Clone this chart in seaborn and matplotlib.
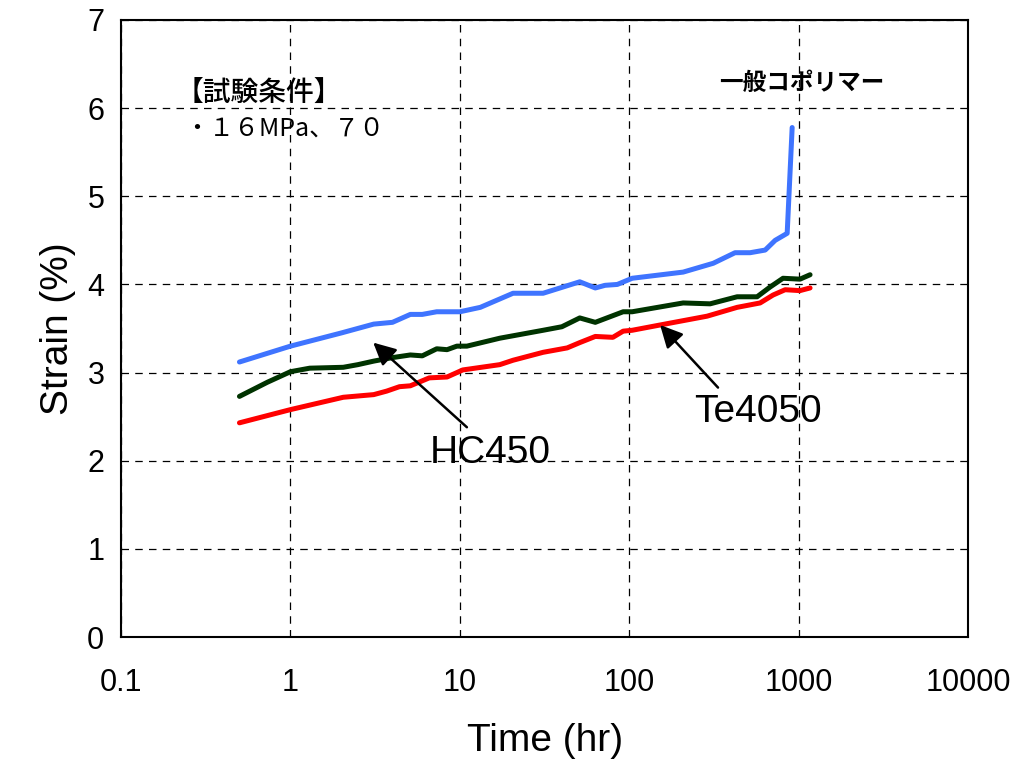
import pandas as pd
import matplotlib.pyplot as plt
import seaborn as sns

# =====================================
# Data
# =====================================

blue_time = [0.5, 1.0, 2.0, 3.1, 4.0, 5.1, 6.0, 7.3, 10, 13.2, 20.6, 31, 51, 63, 72, 85, 104, 208, 313, 421, 517, 634, 726, 855, 915]
blue_strain = [3.12, 3.30, 3.45, 3.55, 3.57, 3.66, 3.66, 3.69, 3.69, 3.74, 3.90, 3.90, 4.03, 3.96, 3.99, 4.00, 4.07, 4.14, 4.24, 4.36, 4.36, 4.39, 4.50, 4.58, 5.78]

green_time = [0.5, 0.73, 1.0, 1.3, 2.05, 2.5, 3.1, 4.0, 5.1, 6.0, 7.3, 8.4, 9.6, 11, 17.2, 31, 40, 51, 63, 92, 104, 208, 300, 433, 568, 677, 808, 1018, 1167]
green_strain = [2.73, 2.89, 3.01, 3.05, 3.06, 3.09, 3.13, 3.17, 3.20, 3.19, 3.27, 3.26, 3.30, 3.30, 3.39, 3.48, 3.52, 3.62, 3.57, 3.69, 3.69, 3.79, 3.78, 3.86, 3.86, 3.97, 4.07, 4.06, 4.11]

red_time = [0.5, 1.0, 2.05, 3.1, 3.7, 4.4, 5.1, 6.6, 8.4, 10.4, 17.2, 20.6, 31, 43, 51, 63, 80, 92, 104, 152, 288, 433, 592, 706, 832, 1018, 1167]
red_strain = [2.43, 2.58, 2.72, 2.75, 2.79, 2.84, 2.85, 2.94, 2.95, 3.03, 3.09, 3.14, 3.23, 3.28, 3.34, 3.41, 3.40, 3.47, 3.48, 3.54, 3.64, 3.74, 3.79, 3.88, 3.94, 3.93, 3.96]

x_ticks = [0.1, 1, 10, 100, 1000, 10000]
x_tick_labels = ["0.1", "1", "10", "100", "1000", "10000"]
y_ticks = [0, 1, 2, 3, 4, 5, 6, 7]

df = pd.concat([
    pd.DataFrame({"time": blue_time, "strain": blue_strain, "grade": "一般コポリマー"}),
    pd.DataFrame({"time": green_time, "strain": green_strain, "grade": "HC450"}),
    pd.DataFrame({"time": red_time, "strain": red_strain, "grade": "Te4050"}),
])

palette = {"一般コポリマー": "#3f74ff", "HC450": "#003300", "Te4050": "#ff0000"}

# =====================================
# Style / fonts
# =====================================

sns.set_style("white")
cjk = "Noto Sans CJK JP"
plt.rcParams['font.family'] = ["Liberation Sans", cjk, 'DejaVu Sans']
plt.rcParams['text.color'] = "black"
plt.rcParams['axes.labelcolor'] = "black"

# =====================================
# Plot
# =====================================

fig = plt.figure(figsize=(10.18, 7.6), dpi=100)
ax = fig.add_axes([0.1189, 0.1618, 0.8321, 0.8119])

sns.lineplot(data=df, x="time", y="strain", hue="grade", palette=palette,
             linewidth=3.6, legend=False, ax=ax, estimator=None, sort=False)

ax.set_xscale("log")
ax.set_xlim(0.1, 10000)
ax.set_ylim(0, 7)
ax.set_xticks(x_ticks)
ax.set_xticklabels(x_tick_labels)
ax.set_yticks(y_ticks)
ax.minorticks_off()
ax.tick_params(axis="both", length=0, labelsize=22, colors="black")
ax.tick_params(axis="x", pad=22)
ax.tick_params(axis="y", pad=12)

ax.grid(True, color="black", linestyle=(0, (6, 5)), linewidth=0.9)
for s in ax.spines.values():
    s.set_color("black")
    s.set_linewidth(1.5)

ax.set_xlabel("Time (hr)", fontsize=28, labelpad=18)
ax.set_ylabel("Strain (%)", fontsize=28, labelpad=8)

# arrows and labels
arrow = dict(arrowstyle="-|>", color="black", lw=1.8, mutation_scale=34,
             shrinkA=0, shrinkB=0)
ax.annotate("", xy=(3.08, 3.34), xytext=(11.0, 2.38), arrowprops=arrow)
ax.annotate("", xy=(152, 3.54), xytext=(334, 2.83), arrowprops=arrow)
ax.text(15.1, 2.09, "HC450", fontsize=28, ha="center", va="center")
ax.text(575, 2.55, "Te4050", fontsize=28, ha="center", va="center")

ax.text(0.064, 0.882, "【試験条件】", fontsize=20, weight="medium",
        family=[cjk, 'DejaVu Sans'], ha="left", va="center", transform=ax.transAxes)
ax.text(0.075, 0.822, "・１６MPa、７０", fontsize=18,
        family=[cjk, 'DejaVu Sans'], ha="left", va="center", transform=ax.transAxes)
ax.text(0.804, 0.898, "一般コポリマー", fontsize=17, weight="bold",
        family=[cjk, 'DejaVu Sans'], ha="center", va="center", transform=ax.transAxes)

fig.savefig("out.png", dpi=100)
